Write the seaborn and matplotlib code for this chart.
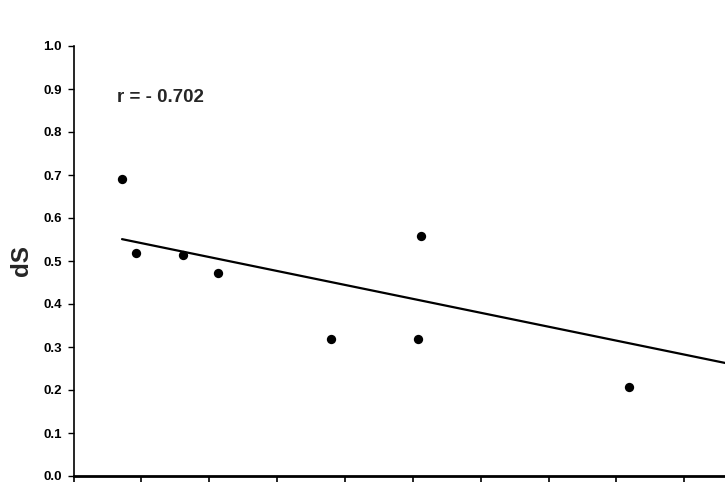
import matplotlib
matplotlib.use("Agg")
import matplotlib.pyplot as plt
import seaborn as sns
import numpy as np
import pandas as pd

# Data (x in axis tick units)
x_vals = [0.715, 0.916, 1.613, 2.129, 3.794, 5.116, 5.071, 8.189]
ds_vals = [0.690, 0.518, 0.513, 0.472, 0.318, 0.559, 0.318, 0.207]
# Fitted regression line as drawn in the reference
fit_intercept = 0.574
fit_slope = -0.0324
r_text = "r = - 0.702"
y_ticks = [0.0, 0.1, 0.2, 0.3, 0.4, 0.5, 0.6, 0.7, 0.8, 0.9, 1.0]
x_ticks = [0, 1, 2, 3, 4, 5, 6, 7, 8, 9]

sns.set_style("ticks")
plt.rcParams["font.family"] = ["Liberation Sans", "DejaVu Sans"]

fig = plt.figure(figsize=(7.25, 4.82), dpi=100)
ax = fig.add_axes([73.5 / 725, 6 / 482, 1 - 73.5 / 725, 430 / 482])

df = pd.DataFrame({"x": x_vals, "dS": ds_vals})
line_x = np.array([min(x_vals), 10.5])
line_df = pd.DataFrame({"x": line_x, "dS": fit_intercept + fit_slope * line_x})

sns.lineplot(data=line_df, x="x", y="dS", color="black", linewidth=1.6, ax=ax)
sns.scatterplot(data=df, x="x", y="dS", color="black", s=45, edgecolor="black",
                linewidth=0, ax=ax, zorder=3)

ax.set_xlim(0, 9.60)
ax.set_ylim(0, 1.0)
ax.set_yticks(y_ticks)
ax.set_yticklabels([f"{v:.1f}" for v in y_ticks], fontsize=9.5, fontweight="bold")
ax.set_xticks(x_ticks)
ax.set_xticklabels([])
ax.set_xlabel("")
ax.set_ylabel("dS", fontsize=17.5, fontweight="bold")
ax.yaxis.set_label_coords(-40.5 / 651.5, 0.5)

sns.despine(ax=ax, top=True, right=True)
ax.spines["left"].set_linewidth(1.2)
ax.spines["bottom"].set_linewidth(2.0)
ax.spines["left"].set_color("black")
ax.spines["bottom"].set_color("black")
ax.tick_params(axis="y", length=4.5, width=1.0, pad=4, colors="black")
ax.tick_params(axis="x", length=6, width=1.2, colors="black")

ax.text(0.64, 0.881, r_text, fontsize=13.5, fontweight="bold", ha="left", va="center")

fig.savefig("out.png", dpi=100)
